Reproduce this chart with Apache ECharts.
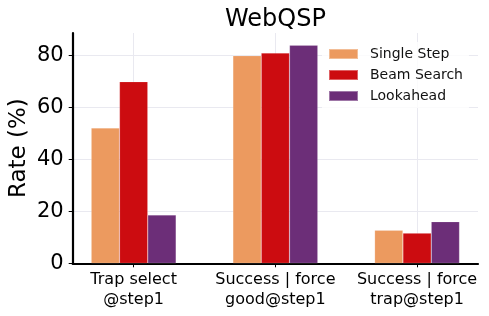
<!DOCTYPE html>
<html><head><meta charset="utf-8">
<script src="https://cdn.jsdelivr.net/npm/echarts@6/dist/echarts.min.js"></script>
<style>html,body{margin:0;padding:0;background:#fff}#c{width:489px;height:316px}</style>
</head><body><div id="c"></div>
<script>
const categories = ['Trap select\n@step1', 'Success | force\ngood@step1', 'Success | force\ntrap@step1'];
const seriesNames = ['Single Step', 'Beam Search', 'Lookahead'];
const singleStep = [52.0, 79.8, 12.7];
const beamSearch = [69.8, 80.8, 11.6];
const lookahead = [18.6, 83.8, 16.0];
const yTicks = [0, 20, 40, 60, 80];
const colors = ['#EC9A5F', '#CC0C10', '#6C2E78'];

const font = 'DejaVu Sans';
const catPos = categories.map((_, i) => i);
const allVals = [singleStep, beamSearch, lookahead];

const chart = echarts.init(document.getElementById('c'), null, {renderer: 'canvas'});
chart.setOption({
  animation: false,
  backgroundColor: '#fff',
  textStyle: {fontFamily: font},
  title: {
    text: 'WebQSP', left: 220, top: 3,
    textStyle: {fontFamily: font, fontSize: 24, fontWeight: 'normal', color: '#000'}
  },
  grid: {left: 72.7, right: 11, top: 33, bottom: 52.7, containLabel: false, outerBoundsMode: 'none'},
  legend: {
    orient: 'vertical', left: 322, top: 42,
    data: seriesNames,
    itemWidth: 29, itemHeight: 10, itemGap: 7,
    icon: 'rect',
    padding: [5, 6, 5, 6],
    backgroundColor: 'rgba(255,255,255,0.8)',
    textStyle: {fontFamily: font, fontSize: 14, color: '#111', padding: [0, 0, 0, 7]}
  },
  xAxis: {
    type: 'value', min: -0.43, max: 2.43,
    axisLine: {show: true, onZero: false, lineStyle: {color: '#000', width: 2.2}},
    axisTick: {show: true, customValues: catPos, length: 4, lineStyle: {color: '#000', width: 1}},
    axisLabel: {
      customValues: catPos, margin: 7,
      formatter: v => categories[Math.round(v)] || '',
      fontFamily: font, fontSize: 16, lineHeight: 20, color: '#000'
    },
    splitLine: {show: true, customValues: catPos, lineStyle: {color: '#e9e9f0', width: 1}}
  },
  yAxis: {
    type: 'value', min: 0, max: 88.5,
    name: 'Rate (%)', nameLocation: 'middle', nameGap: 42, nameMoveOverlap: false,
    nameTextStyle: {fontFamily: font, fontSize: 23, color: '#000'},
    axisLine: {show: true, onZero: false, lineStyle: {color: '#000', width: 2.2}},
    axisTick: {show: true, customValues: yTicks, length: 4, lineStyle: {color: '#000', width: 1}},
    axisLabel: {customValues: yTicks, margin: 9, fontFamily: font, fontSize: 21, color: '#000'},
    splitLine: {show: true, customValues: yTicks, lineStyle: {color: '#e9e9f0', width: 1}}
  },
  series: seriesNames.map((name, s) => ({
    name, type: 'bar',
    data: catPos.map((x, i) => [x, allVals[s][i]]),
    barWidth: 28.3, barGap: '0%',
    itemStyle: {color: colors[s], borderColor: 'rgba(255,255,255,0.35)', borderWidth: 0.5}
  }))
});
</script></body></html>
